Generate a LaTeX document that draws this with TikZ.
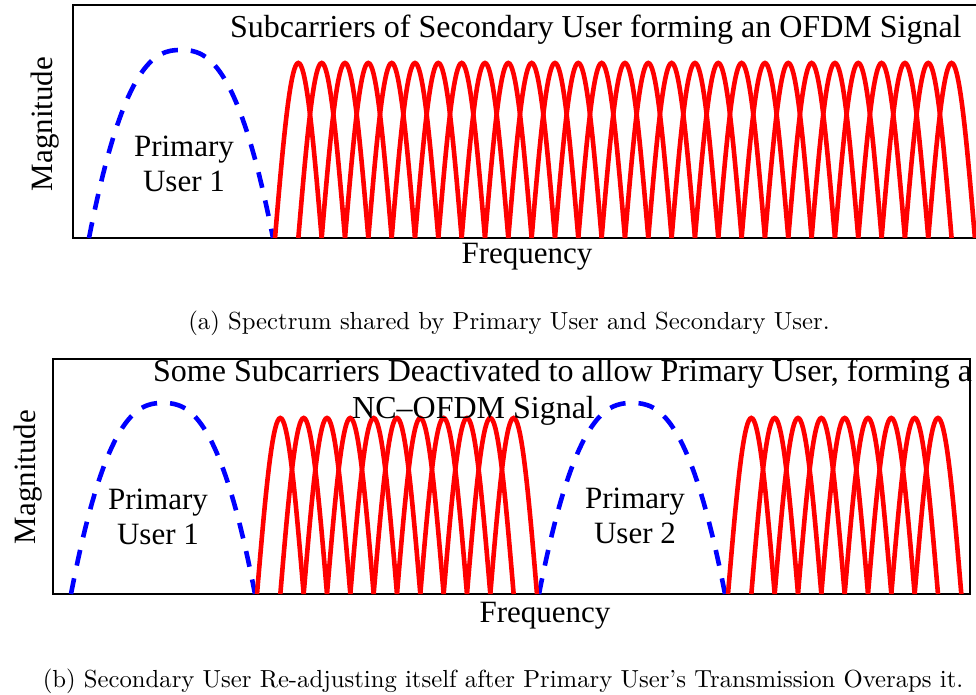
\documentclass[tikz,border=0pt]{standalone}
\usepackage{fontspec}
\newfontfamily\tms{Liberation Serif}
\begin{document}
\begin{tikzpicture}[x=1pt,y=-1pt,
  frame/.style={line width=1.4pt,black},
  redarc/.style={line width=4.6pt,red},
  bluearc/.style={line width=4.6pt,blue,dash pattern=on 16pt off 13pt},
  lbl/.style={font=\tms\fontsize{31}{36}\selectfont,inner sep=0pt},
  ttl/.style={font=\tms\fontsize{32}{37}\selectfont,inner sep=0pt},
  captxt/.style={inner sep=0pt}]
\useasboundingbox (0,0) rectangle (976,694);
% ---------- top panel ----------
\draw[frame] (985,5) -- (73,5) -- (73,238) -- (985,238);
\draw[bluearc] plot[domain=-1:1,samples=80] ({181+92*\x},{238-188*(1-abs(\x)^2.5)});
\foreach \k in {0,...,28}{
  \draw[redarc] plot[domain=0:180,samples=37] ({275+23.33*\k+0.25928*\x},{238-175*sin(\x)});
}
\node[ttl,anchor=base west] (titleA) at (230,37) {Subcarriers of Secondary User forming an OFDM Signal};
\node[lbl,anchor=base] (puA1) at (184,156) {Primary};
\node[lbl,anchor=base] (puA2) at (184,191) {User 1};
\node[lbl,rotate=90] (magA) at (45,124) {Magnitude};
\node[lbl,anchor=base] (freqA) at (527,263) {Frequency};
\node[captxt,anchor=base] (capA) at (509,329) {\scalebox{2.47}{(a) Spectrum shared by Primary User and Secondary User.}};
% ---------- bottom panel ----------
\draw[frame] (53,359) rectangle (970,594);
\draw[bluearc] plot[domain=-1:1,samples=80] ({163+92*\x},{594-191*(1-abs(\x)^2.5)});
\draw[bluearc] plot[domain=-1:1,samples=80] ({632+93*\x},{594-191*(1-abs(\x)^2.5)});
\foreach \k in {0,...,10}{
  \draw[redarc] plot[domain=0:180,samples=37] ({257+23.33*\k+0.25928*\x},{594-176*sin(\x)});
}
\foreach \k in {0,...,8}{
  \draw[redarc] plot[domain=0:180,samples=37] ({728+23.33*\k+0.25928*\x},{594-176*sin(\x)});
}
\node[ttl,anchor=base west] (titleB1) at (153,381) {Some Subcarriers Deactivated to allow Primary User, forming a};
\node[ttl,anchor=base west] (titleB2) at (352,418) {NC–OFDM Signal};
\node[lbl,anchor=base] (puB1a) at (158,509) {Primary};
\node[lbl,anchor=base] (puB1b) at (158,544) {User 1};
\node[lbl,anchor=base] (puB2a) at (635,508) {Primary};
\node[lbl,anchor=base] (puB2b) at (635,543) {User 2};
\node[lbl,rotate=90] (magB) at (28,477) {Magnitude};
\node[lbl,anchor=base] (freqB) at (545,622) {Frequency};
\node[captxt,anchor=base] (capB) at (503,687) {\scalebox{2.47}{(b) Secondary User Re-adjusting itself after Primary User's Transmission Overaps it.}};
\end{tikzpicture}
\end{document}
